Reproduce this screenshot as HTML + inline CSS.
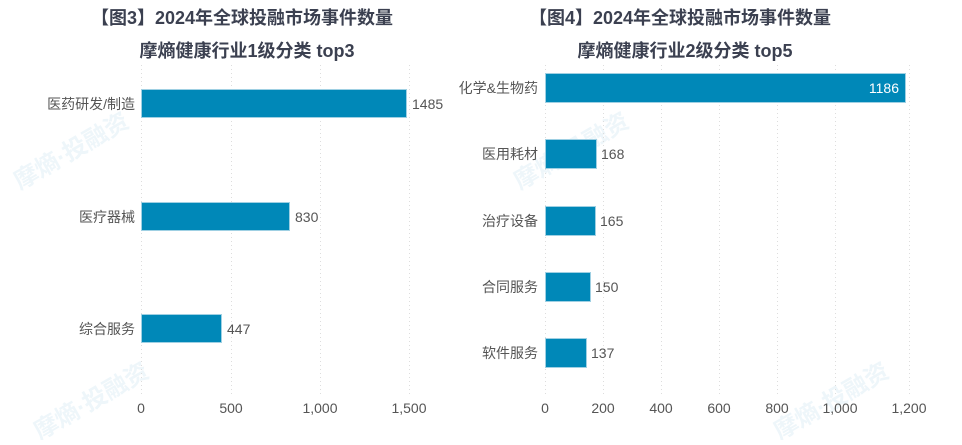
<!DOCTYPE html>
<html><head><meta charset="utf-8"><style>
body{margin:0;background:#fff;width:962px;height:440px;overflow:hidden;font-family:"Liberation Sans","Noto Sans CJK SC",sans-serif}
</style></head><body>
<svg width="962" height="440" xmlns="http://www.w3.org/2000/svg" font-family="Liberation Sans, Noto Sans CJK SC, sans-serif">
<g fill="#eef6fa" font-size="24" font-weight="bold">
<text x="20" y="190" transform="rotate(-30 20 190)">摩熵·投融资</text>
<text x="520" y="190" transform="rotate(-30 520 190)">摩熵·投融资</text>
<text x="40" y="440" transform="rotate(-30 40 440)">摩熵·投融资</text>
<text x="780" y="440" transform="rotate(-30 780 440)">摩熵·投融资</text>
</g>
<g fill="#3b4050" font-weight="bold" font-size="18" text-anchor="middle">
<text x="242" y="24">【图3】2024年全球投融市场事件数量</text>
<text x="247" y="57">摩熵健康行业1级分类 top3</text>
<text x="680" y="24">【图4】2024年全球投融市场事件数量</text>
<text x="685" y="57">摩熵健康行业2级分类 top5</text>
</g>
<g stroke="#ddd" stroke-dasharray="1 3">
<line x1="141.5" y1="65" x2="141.5" y2="395"/><line x1="231.5" y1="65" x2="231.5" y2="395"/><line x1="320.5" y1="65" x2="320.5" y2="395"/><line x1="409.5" y1="65" x2="409.5" y2="395"/>
<line x1="545.5" y1="65" x2="545.5" y2="395"/><line x1="603.5" y1="65" x2="603.5" y2="395"/><line x1="661.5" y1="65" x2="661.5" y2="395"/><line x1="719.5" y1="65" x2="719.5" y2="395"/><line x1="777.5" y1="65" x2="777.5" y2="395"/><line x1="835.5" y1="65" x2="835.5" y2="395"/><line x1="909.5" y1="65" x2="909.5" y2="395"/>
</g>
<g fill="#0088b8" stroke="#9fd0e3" stroke-width="1">
<rect x="141.5" y="89.5" width="265" height="28"/>
<rect x="141.5" y="202.5" width="148" height="28"/>
<rect x="141.5" y="314.5" width="80" height="28"/>
<rect x="545.5" y="73.5" width="360" height="29"/>
<rect x="545.5" y="139.5" width="51" height="29"/>
<rect x="545.5" y="206.5" width="50" height="29"/>
<rect x="545.5" y="272.5" width="45" height="29"/>
<rect x="545.5" y="338.5" width="41" height="29"/>
</g>
<g fill="#555" font-size="14">
<g text-anchor="end">
<text x="135" y="109">医药研发/制造</text>
<text x="135" y="222">医疗器械</text>
<text x="135" y="334">综合服务</text>
<text x="538" y="93">化学&amp;生物药</text>
<text x="538" y="159">医用耗材</text>
<text x="538" y="226">治疗设备</text>
<text x="538" y="292">合同服务</text>
<text x="538" y="358">软件服务</text>
</g>
<text x="412" y="109">1485</text><text x="295" y="222">830</text><text x="227" y="334">447</text>
<text x="601" y="159">168</text><text x="600" y="226">165</text><text x="595" y="292">150</text><text x="591" y="358">137</text>
<text x="899" y="93" fill="#fff" text-anchor="end">1186</text>
<g text-anchor="middle">
<text x="141" y="413">0</text><text x="231" y="413">500</text><text x="320" y="413">1,000</text><text x="409" y="413">1,500</text>
<text x="545" y="413">0</text><text x="603" y="413">200</text><text x="661" y="413">400</text><text x="719" y="413">600</text><text x="777" y="413">800</text><text x="840" y="413">1,000</text><text x="909" y="413">1,200</text>
</g>
</g>
</svg>
</body></html>
